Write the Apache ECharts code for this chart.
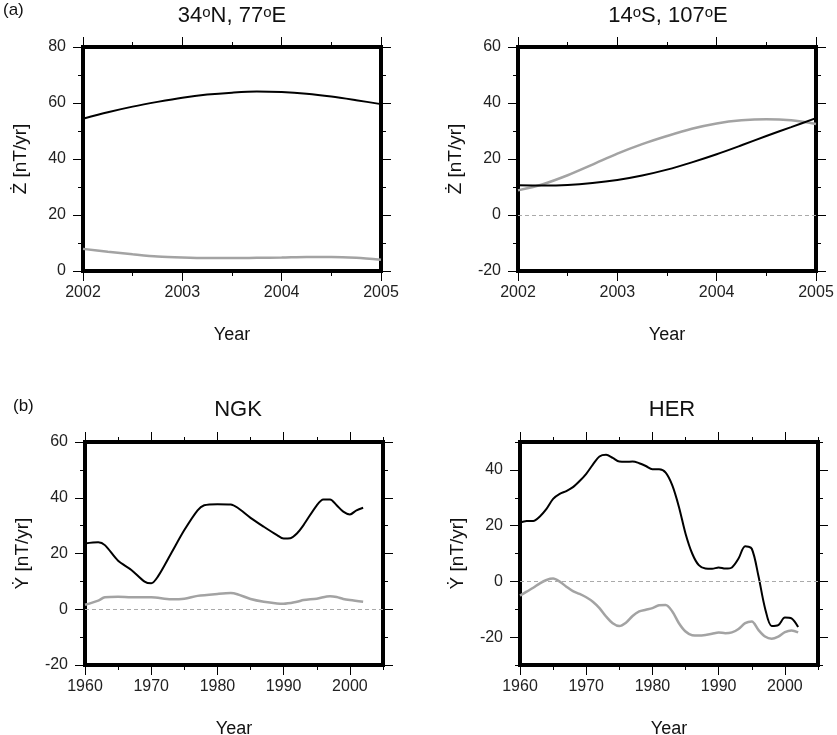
<!DOCTYPE html>
<html>
<head>
<meta charset="utf-8">
<script src="https://cdn.jsdelivr.net/npm/echarts@6/dist/echarts.min.js"></script>
<style>
html,body{margin:0;padding:0;background:#fff;}
#c{width:837px;height:735px;}
</style>
</head>
<body>
<div id="c"></div>
<script>
// ---- Data ----
// Panel (a) left: 34N, 77E
const yearsA = [2002, 2002.25, 2002.5, 2002.75, 2003, 2003.25, 2003.5, 2003.75, 2004, 2004.25, 2004.5, 2004.75, 2005];
const p1Black = [54.4, 56.7, 58.7, 60.4, 61.9, 63.0, 63.7, 64.1, 63.9, 63.3, 62.3, 61.0, 59.6];
const p1Gray  = [7.9, 6.9, 6.0, 5.2, 4.8, 4.6, 4.6, 4.7, 4.8, 5.0, 5.0, 4.7, 4.0];
// Panel (a) right: 14S, 107E
const p2Black = [10.6, 10.5, 10.7, 11.4, 12.5, 14.1, 16.2, 18.8, 21.7, 24.9, 28.2, 31.4, 34.6];
const p2Gray  = [8.8, 11.0, 14.2, 18.0, 21.9, 25.3, 28.2, 30.8, 32.7, 33.8, 34.2, 33.8, 32.5];

// Panel (b) left: NGK
const yearsNGK = [1960, 1962, 1963, 1965, 1967, 1969, 1970, 1971, 1973, 1975, 1977, 1978, 1980, 1982, 1983, 1985, 1987, 1989, 1990, 1991, 1992, 1993, 1995, 1996, 1997, 1998, 1999, 2000, 2001, 2002];
const ngkBlack = [23.6, 24.0, 23.0, 17.4, 14.1, 9.9, 9.3, 11.7, 20.0, 28.4, 35.5, 37.3, 37.7, 37.6, 36.5, 32.8, 29.6, 26.6, 25.4, 25.5, 27.2, 30.2, 37.3, 39.4, 39.4, 37.3, 35.0, 34.0, 35.5, 36.4];
const yearsNGKg = [1960, 1962, 1963, 1965, 1967, 1970, 1973, 1975, 1977, 1980, 1982, 1983, 1985, 1987, 1989, 1990, 1992, 1993, 1995, 1997, 1998, 1999, 2000, 2002];
const ngkGray  = [1.6, 3.1, 4.3, 4.5, 4.3, 4.3, 3.6, 3.8, 4.8, 5.5, 5.8, 5.4, 3.7, 2.7, 2.1, 2.0, 2.7, 3.3, 3.8, 4.7, 4.4, 3.7, 3.3, 2.7];

// Panel (b) right: HER
const yearsHER = [1960, 1961, 1962, 1963, 1964, 1965, 1966, 1967, 1968, 1969, 1970, 1971, 1972, 1973, 1974, 1975, 1976, 1977, 1978, 1979, 1980, 1981, 1982, 1983, 1984, 1985, 1986, 1987, 1988, 1989, 1990, 1991, 1992, 1993, 1994, 1995, 1996, 1997, 1998, 1999, 2000, 2001, 2002];
const herBlack = [21.1, 21.7, 21.7, 23.3, 26.0, 29.6, 31.4, 32.4, 33.8, 36.0, 38.6, 41.9, 44.8, 45.4, 44.3, 43.0, 42.9, 43.0, 42.4, 41.4, 40.2, 40.2, 39.0, 34.4, 26.7, 17.1, 10.0, 5.8, 4.6, 4.5, 5.0, 4.6, 5.0, 8.2, 12.6, 11.7, 2.0, -9.6, -16.0, -15.7, -13.0, -13.3, -16.4];
const herGray  = [-5.1, -3.7, -2.3, -0.7, 0.5, 1.0, -0.1, -1.9, -3.5, -4.5, -5.7, -7.3, -9.6, -12.6, -15.0, -16.0, -14.8, -12.4, -10.8, -10.2, -9.6, -8.6, -8.5, -10.8, -15.0, -18.0, -19.3, -19.4, -19.2, -18.8, -18.3, -18.6, -18.3, -17.1, -15.0, -14.4, -17.4, -19.8, -20.6, -19.8, -18.2, -17.6, -18.3];

// Tick values
const xTicksA = [2002, 2003, 2004, 2005];
const xMinorA = [2002.5, 2003.5, 2004.5];
const xTicksB = [1960, 1970, 1980, 1990, 2000];
const xMinorB = [1965, 1975, 1985, 1995, 2005];
const yTicks1 = [0, 20, 40, 60, 80];
const yMinor1 = [10, 30, 50, 70];
const yTicks2 = [-20, 0, 20, 40, 60];
const yMinor2 = [-10, 10, 30, 50];
const yTicks4 = [-20, 0, 20, 40];
const yMinor4 = [-30, -10, 10, 30, 50];

const titles = ['34{s|o}N, 77{s|o}E', '14{s|o}S, 107{s|o}E', 'NGK', 'HER'];
const zName = '\u017B [nT/yr]';
const yName = '\u1E8E [nT/yr]';

// ---- Layout ----
const FONT = 'Liberation Sans, Arial, Helvetica, sans-serif';
const grids = [
  {left: 83, top: 47, width: 298, height: 224},
  {left: 518, top: 47, width: 298, height: 224},
  {left: 85, top: 442, width: 298, height: 223},
  {left: 520, top: 442, width: 298, height: 223}
];
const xRanges = [[2002, 2005], [2002, 2005], [1960, 2005], [1960, 2005]];
const yRanges = [[0, 80], [-20, 60], [-20, 60], [-30, 50]];
const xMaj = [xTicksA, xTicksA, xTicksB, xTicksB];
const xMin = [xMinorA, xMinorA, xMinorB, xMinorB];
const yMaj = [yTicks1, yTicks2, yTicks2, yTicks4];
const yMin = [yMinor1, yMinor2, yMinor2, yMinor4];
const yNames = [zName, zName, yName, yName];

const xAxes = [], yAxes = [];
const lineStyleFrame = {color: '#000', width: 4, cap: 'square'};

function mkAxis(kind, gi, pos, ticks, len, showLine, labels, name, range) {
  const a = {
    type: 'value', gridIndex: gi, position: pos,
    min: range[0], max: range[1],
    axisLine: {show: showLine, onZero: false, lineStyle: lineStyleFrame},
    axisTick: {show: true, inside: false, length: len, customValues: ticks, lineStyle: {color: '#000', width: 1}},
    minorTick: {show: false},
    splitLine: {show: false},
    axisLabel: labels ? {
      show: true, customValues: labels, fontFamily: FONT, fontSize: 16, color: '#222',
      margin: kind === 'x' ? 14 : 17,
      formatter: v => String(v)
    } : {show: false}
  };
  if (name) {
    a.name = name;
    a.nameLocation = 'middle';
    a.nameTextStyle = {fontFamily: FONT, fontSize: kind === 'x' ? 18 : 19, color: '#111'};
    a.nameGap = kind === 'x' ? 55 : 53;
  }
  return a;
}

const series = [];
for (let g = 0; g < 4; g++) {
  const xi = xAxes.length;
  xAxes.push(mkAxis('x', g, 'bottom', xMaj[g], 10, true, xMaj[g], 'Year', xRanges[g]));
  xAxes.push(mkAxis('x', g, 'bottom', xMin[g], 5, false, null, null, xRanges[g]));
  xAxes.push(mkAxis('x', g, 'top', xMaj[g], 10, true, null, null, xRanges[g]));
  xAxes.push(mkAxis('x', g, 'top', xMin[g], 5, false, null, null, xRanges[g]));
  const yi = yAxes.length;
  yAxes.push(mkAxis('y', g, 'left', yMaj[g], 10, true, yMaj[g], yNames[g], yRanges[g]));
  yAxes.push(mkAxis('y', g, 'left', yMin[g], 5, false, null, null, yRanges[g]));
  yAxes.push(mkAxis('y', g, 'right', yMaj[g], 10, true, null, null, yRanges[g]));
  yAxes.push(mkAxis('y', g, 'right', yMin[g], 5, false, null, null, yRanges[g]));
  grids[g].xi = xi; grids[g].yi = yi;
}

function pairs(xs, ys) { return xs.map((x, i) => [x, ys[i]]); }
function addLine(g, xs, ys, color, width, zero) {
  const s = {
    type: 'line', xAxisIndex: grids[g].xi, yAxisIndex: grids[g].yi,
    data: pairs(xs, ys), showSymbol: false, smooth: 0.3, clip: true,
    lineStyle: {color: color, width: width}, z: color === '#000' ? 4 : 3,
    silent: true, animation: false
  };
  if (zero) {
    s.markLine = {
      silent: true, symbol: ['none', 'none'], animation: false,
      label: {show: false},
      lineStyle: {color: '#aaa', width: 1, type: [4, 3]},
      data: [{yAxis: 0}]
    };
  }
  series.push(s);
}
addLine(0, yearsA, p1Gray, '#a3a3a3', 2.5, false);
addLine(0, yearsA, p1Black, '#000', 2, false);
addLine(1, yearsA, p2Gray, '#a3a3a3', 2.5, true);
addLine(1, yearsA, p2Black, '#000', 2, false);
addLine(2, yearsNGKg, ngkGray, '#a3a3a3', 2.5, true);
addLine(2, yearsNGK, ngkBlack, '#000', 2, false);
addLine(3, yearsHER, herGray, '#a3a3a3', 2.5, true);
addLine(3, yearsHER, herBlack, '#000', 2, false);

const titleCenters = [[232, 5], [668, 5], [238, 399], [672, 399]];
const titleComps = titles.map((t, i) => ({
  text: t, left: titleCenters[i][0], top: titleCenters[i][1], textAlign: 'center', padding: 0,
  textStyle: {
    fontFamily: FONT, fontSize: 22, fontWeight: 'normal', color: '#111',
    rich: {s: {fontFamily: FONT, fontSize: 15, color: '#111', verticalAlign: 'top', lineHeight: 22}}
  }
}));
titleComps.push({text: '(a)', left: 3, top: 2, padding: 0, textStyle: {fontFamily: FONT, fontSize: 17, fontWeight: 'normal', color: '#111'}});
titleComps.push({text: '(b)', left: 13, top: 398, padding: 0, textStyle: {fontFamily: FONT, fontSize: 17, fontWeight: 'normal', color: '#111'}});

const chart = echarts.init(document.getElementById('c'), null, {renderer: 'canvas'});
chart.setOption({
  animation: false,
  backgroundColor: '#fff',
  title: titleComps,
  grid: grids.map(g => ({left: g.left, top: g.top, width: g.width, height: g.height, containLabel: false, outerBoundsMode: 'none', show: false})),
  xAxis: xAxes,
  yAxis: yAxes,
  series: series
});
</script>
</body>
</html>
